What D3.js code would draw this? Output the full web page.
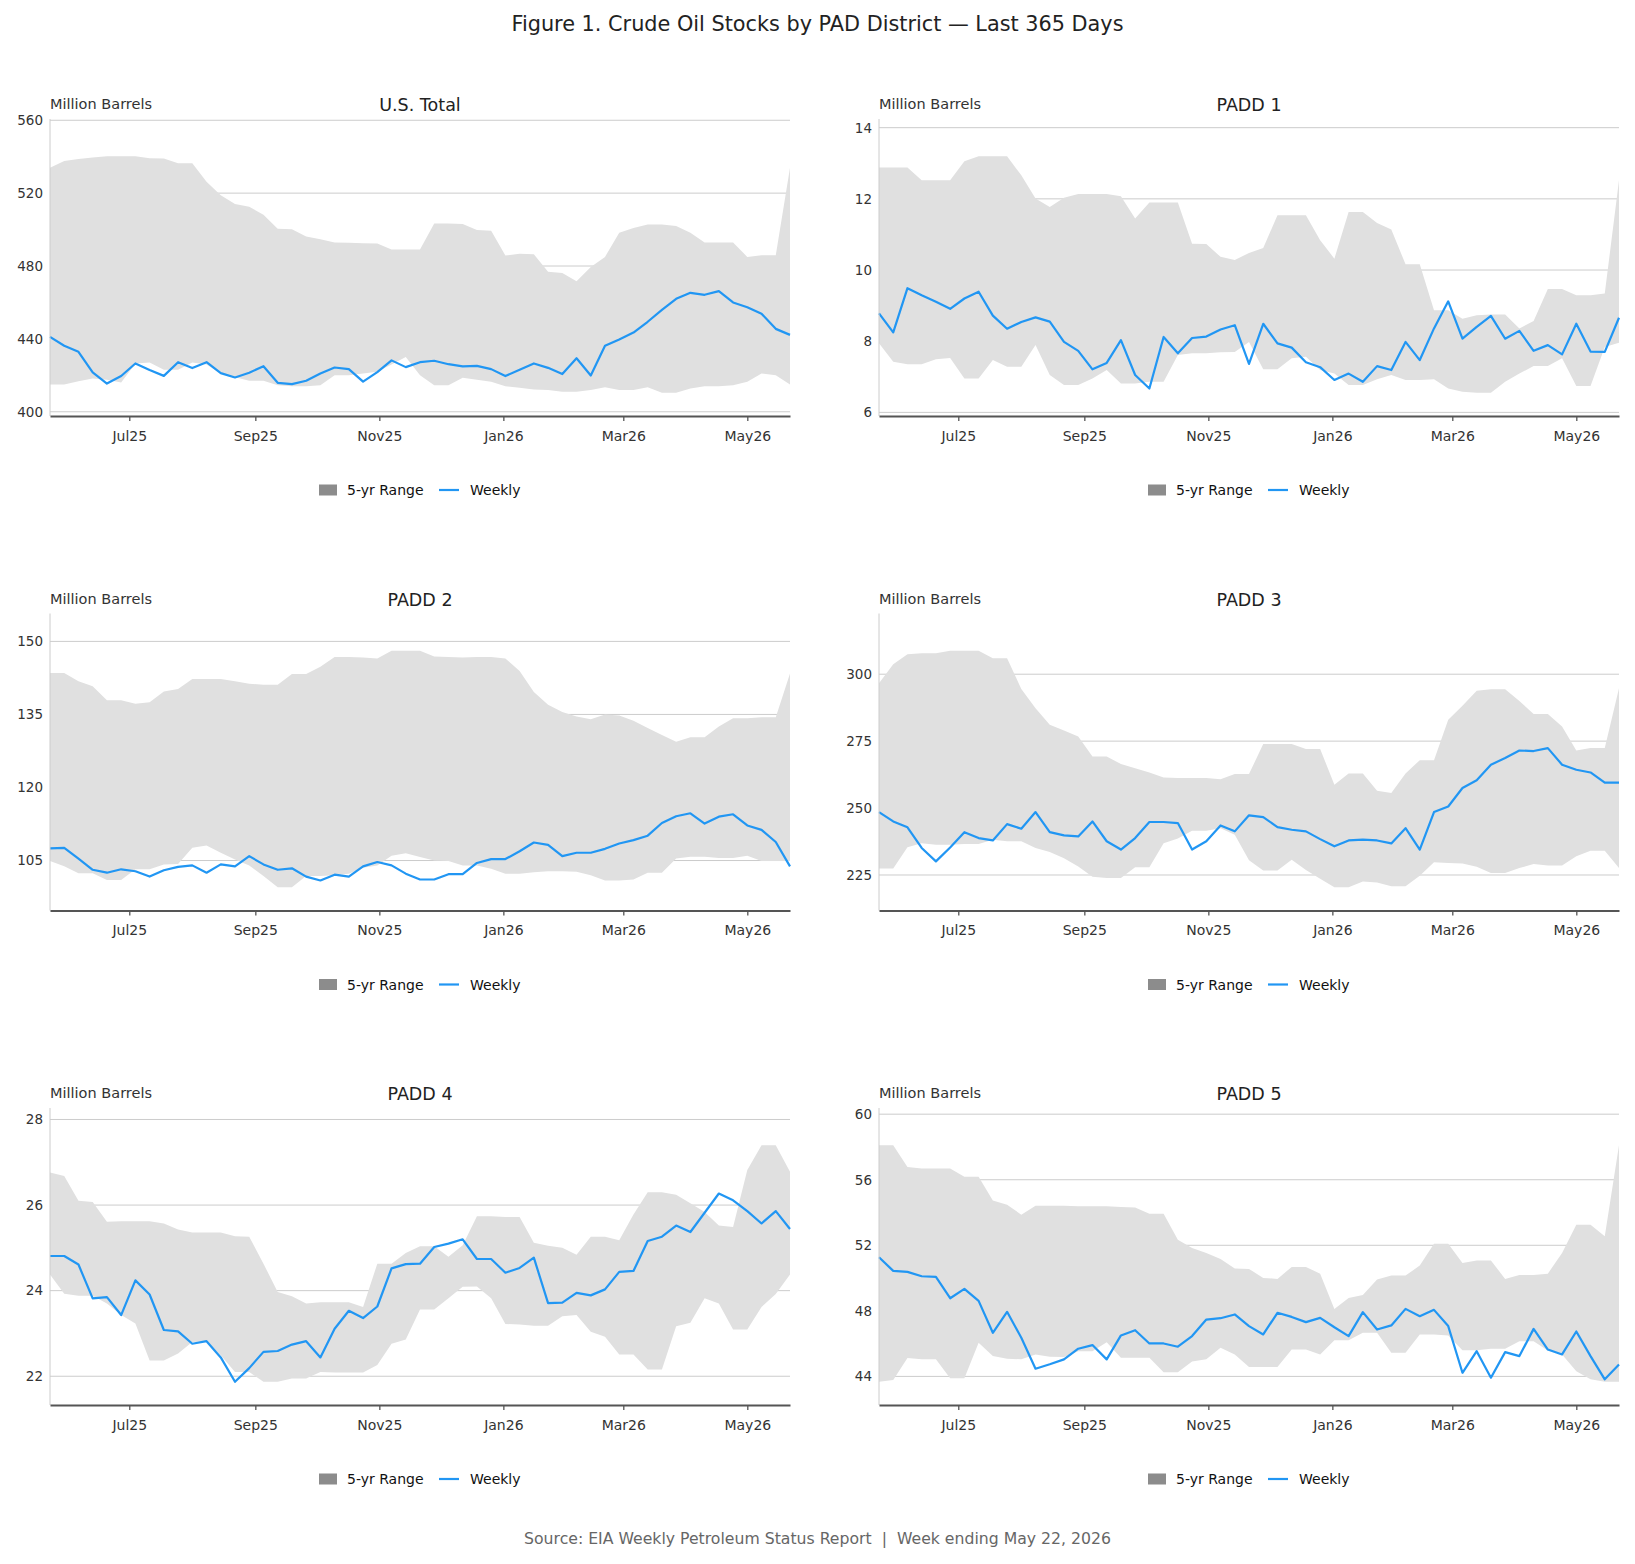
<!DOCTYPE html>
<html>
<head>
<meta charset="utf-8">
<script src="https://cdn.jsdelivr.net/npm/d3@7"></script>
<style>
  body { margin: 0; background: #fff; }
  text { font-family: "DejaVu Sans", sans-serif; }
</style>
</head>
<body>
<div id="canvas"></div>
<script>
"use strict"

let svgWidth = 1635;
let svgHeight = 1564;

/* week ending dates (Fridays), last 365 days */
let weeks = d3.timeFriday.range(new Date(2025, 4, 23), new Date(2026, 4, 23));

let panelNames = ["U.S. Total", "PADD 1", "PADD 2", "PADD 3", "PADD 4", "PADD 5"];

/* U.S. Total */
let usWeekly = [441.1, 436.2, 432.9, 421.6, 415.5, 419.6, 426.5, 422.9, 419.7, 427.2, 424.0, 427.2, 421.2, 418.8, 421.4, 425.0, 415.9, 415.2, 417.0, 421.0, 424.3, 423.4, 416.5, 421.8, 428.2, 424.5, 427.2, 428.0, 426.1, 424.9, 425.2, 423.4, 419.6, 423.0, 426.5, 424.1, 420.7, 429.4, 419.9, 436.2, 439.7, 443.5, 449.4, 455.9, 462.0, 465.3, 464.2, 466.2, 460.0, 457.4, 453.8, 445.5, 442.2];
let usHigh = [534.0, 537.7, 538.8, 539.5, 540.3, 540.3, 540.3, 539.2, 539.0, 536.4, 536.4, 526.2, 518.9, 514.1, 512.5, 508.1, 500.4, 500.2, 496.2, 494.7, 492.9, 492.7, 492.5, 492.3, 489.1, 489.1, 489.1, 503.3, 503.3, 503.1, 499.8, 499.3, 485.8, 486.7, 486.5, 476.8, 476.1, 471.7, 479.4, 485.0, 498.2, 500.8, 502.8, 502.8, 502.0, 498.2, 492.9, 492.9, 492.9, 485.0, 485.9, 485.9, 534.0];
let usLow = [415.0, 415.0, 416.8, 418.3, 417.5, 416.0, 426.5, 427.0, 423.0, 423.0, 427.0, 426.0, 421.0, 419.0, 417.0, 417.0, 414.6, 414.0, 414.0, 414.6, 420.0, 420.0, 421.0, 422.0, 426.0, 430.0, 420.0, 414.6, 414.6, 418.6, 417.5, 416.5, 414.0, 413.2, 412.2, 412.0, 411.0, 411.0, 412.0, 413.5, 412.0, 412.0, 413.5, 410.4, 410.4, 412.8, 414.0, 414.0, 414.6, 416.5, 421.0, 420.0, 415.0];
let usTicks = [400, 440, 480, 520, 560];

/* PADD 1 */
let p1Weekly = [8.78, 8.25, 9.49, 9.29, 9.11, 8.91, 9.20, 9.39, 8.72, 8.35, 8.54, 8.67, 8.55, 7.98, 7.73, 7.21, 7.39, 8.03, 7.05, 6.67, 8.12, 7.66, 8.09, 8.13, 8.33, 8.45, 7.36, 8.49, 7.94, 7.82, 7.41, 7.27, 6.91, 7.09, 6.86, 7.30, 7.19, 7.98, 7.47, 8.36, 9.12, 8.07, 8.40, 8.71, 8.07, 8.29, 7.73, 7.89, 7.63, 8.49, 7.71, 7.70, 8.66];
let p1High = [12.88, 12.88, 12.88, 12.52, 12.52, 12.52, 13.06, 13.20, 13.20, 13.20, 12.66, 12.01, 11.77, 12.03, 12.14, 12.14, 12.14, 12.07, 11.45, 11.90, 11.90, 11.90, 10.74, 10.73, 10.37, 10.28, 10.48, 10.62, 11.54, 11.54, 11.54, 10.84, 10.32, 11.63, 11.63, 11.32, 11.14, 10.16, 10.16, 8.87, 8.87, 8.63, 8.73, 8.75, 8.75, 8.36, 8.57, 9.47, 9.47, 9.29, 9.29, 9.34, 12.52];
let p1Low = [7.94, 7.42, 7.35, 7.35, 7.49, 7.53, 6.95, 6.95, 7.47, 7.28, 7.28, 7.89, 7.05, 6.77, 6.77, 6.95, 7.19, 6.81, 6.81, 6.86, 6.86, 7.61, 7.66, 7.66, 7.69, 7.70, 7.98, 7.21, 7.21, 7.52, 7.56, 7.19, 7.09, 6.77, 6.77, 6.93, 7.05, 6.91, 6.91, 6.93, 6.67, 6.58, 6.55, 6.55, 6.86, 7.09, 7.30, 7.30, 7.52, 6.74, 6.74, 7.84, 7.96];
let p1Ticks = [6, 8, 10, 12, 14];

/* PADD 2 */
let p2Weekly = [107.5, 107.6, 105.4, 103.1, 102.5, 103.2, 102.8, 101.7, 103.0, 103.7, 104.0, 102.5, 104.2, 103.8, 105.9, 104.2, 103.1, 103.4, 101.7, 100.9, 102.1, 101.7, 103.8, 104.7, 104.0, 102.3, 101.1, 101.1, 102.2, 102.2, 104.5, 105.3, 105.3, 106.9, 108.7, 108.2, 105.9, 106.6, 106.6, 107.4, 108.5, 109.2, 110.1, 112.7, 114.1, 114.7, 112.6, 114.0, 114.5, 112.2, 111.3, 108.8, 103.8];
let p2High = [143.5, 143.5, 141.8, 140.8, 137.9, 137.9, 137.2, 137.5, 139.7, 140.2, 142.3, 142.3, 142.3, 141.8, 141.3, 141.1, 141.1, 143.3, 143.3, 144.8, 146.8, 146.8, 146.7, 146.5, 148.1, 148.1, 148.1, 146.9, 146.8, 146.7, 146.8, 146.8, 146.5, 143.9, 139.6, 137.0, 135.5, 134.6, 134.0, 135.0, 134.8, 133.7, 132.2, 130.8, 129.4, 130.3, 130.3, 132.5, 134.2, 134.2, 134.4, 134.4, 143.4];
let p2Low = [104.9, 103.8, 102.4, 102.4, 101.0, 101.0, 103.2, 103.2, 104.2, 104.3, 107.6, 108.1, 106.6, 105.2, 104.0, 101.8, 99.5, 99.5, 101.8, 101.8, 102.0, 102.3, 103.5, 104.0, 106.0, 106.5, 105.7, 105.0, 104.9, 104.0, 104.0, 103.3, 102.3, 102.3, 102.6, 102.8, 102.8, 102.7, 102.0, 100.9, 100.9, 101.1, 102.5, 102.5, 105.4, 105.8, 105.8, 105.5, 105.5, 106.0, 104.9, 104.9, 104.9];
let p2Ticks = [105, 120, 135, 150];

/* PADD 3 */
let p3Weekly = [248.5, 245.0, 242.8, 235.1, 230.1, 235.3, 241.0, 238.8, 237.9, 244.0, 242.3, 248.5, 241.0, 239.8, 239.4, 245.0, 237.6, 234.5, 238.8, 244.8, 244.8, 244.4, 234.5, 237.6, 243.5, 241.3, 247.3, 246.6, 242.9, 241.9, 241.3, 238.4, 235.7, 237.9, 238.2, 237.9, 236.8, 242.5, 234.5, 248.5, 250.6, 257.5, 260.4, 266.2, 268.7, 271.5, 271.3, 272.4, 266.2, 264.3, 263.3, 259.5, 259.5];
let p3High = [296.6, 303.7, 307.5, 307.8, 307.8, 308.8, 308.8, 308.8, 306.0, 306.0, 294.5, 287.3, 281.1, 279.0, 276.7, 269.3, 269.3, 266.5, 264.9, 263.3, 261.4, 261.2, 261.2, 261.2, 260.8, 262.7, 262.7, 273.9, 273.9, 273.9, 272.1, 272.1, 258.7, 262.9, 262.9, 256.5, 255.6, 262.9, 267.9, 267.9, 283.0, 288.2, 293.8, 294.4, 294.4, 290.0, 285.1, 285.1, 280.5, 271.5, 272.4, 272.4, 294.8];
let p3Low = [227.4, 227.4, 235.4, 236.9, 236.3, 236.3, 236.6, 236.6, 238.2, 237.6, 237.6, 235.1, 233.6, 231.3, 228.2, 224.3, 223.9, 223.9, 227.9, 227.9, 236.9, 238.6, 241.5, 241.5, 242.5, 240.0, 230.5, 226.7, 226.7, 230.7, 226.9, 223.6, 220.4, 220.4, 222.6, 222.2, 220.8, 220.8, 224.7, 229.8, 229.5, 229.3, 228.1, 225.7, 225.7, 227.6, 229.1, 228.5, 228.5, 232.0, 234.1, 234.1, 227.6];
let p3Ticks = [225, 250, 275, 300];

/* PADD 4 */
let p4Weekly = [24.81, 24.81, 24.61, 23.82, 23.85, 23.43, 24.24, 23.91, 23.08, 23.05, 22.76, 22.82, 22.44, 21.87, 22.19, 22.57, 22.59, 22.74, 22.82, 22.44, 23.11, 23.53, 23.36, 23.63, 24.52, 24.62, 24.63, 25.02, 25.10, 25.20, 24.74, 24.74, 24.42, 24.53, 24.77, 23.71, 23.72, 23.95, 23.89, 24.03, 24.44, 24.46, 25.16, 25.26, 25.52, 25.37, 25.82, 26.27, 26.11, 25.86, 25.57, 25.86, 25.44];
let p4High = [26.76, 26.68, 26.10, 26.07, 25.61, 25.62, 25.62, 25.62, 25.57, 25.43, 25.36, 25.36, 25.36, 25.27, 25.26, 24.63, 23.97, 23.87, 23.70, 23.73, 23.73, 23.73, 23.62, 24.63, 24.63, 24.88, 25.04, 25.04, 24.79, 25.06, 25.74, 25.74, 25.72, 25.72, 25.12, 25.05, 25.00, 24.84, 25.26, 25.26, 25.18, 25.78, 26.30, 26.30, 26.24, 26.04, 25.84, 25.52, 25.49, 26.82, 27.40, 27.40, 26.78];
let p4Low = [24.38, 23.93, 23.88, 23.88, 23.70, 23.43, 23.23, 22.37, 22.37, 22.53, 22.80, 22.82, 22.49, 22.10, 22.10, 21.87, 21.87, 21.95, 21.95, 22.10, 22.09, 22.09, 22.09, 22.26, 22.76, 22.86, 23.56, 23.56, 23.82, 24.09, 24.10, 23.82, 23.22, 23.21, 23.18, 23.18, 23.40, 23.43, 23.04, 22.92, 22.51, 22.51, 22.16, 22.16, 23.17, 23.25, 23.82, 23.70, 23.09, 23.09, 23.62, 23.92, 24.38];
let p4Ticks = [22, 24, 26, 28];

/* PADD 5 */
let p5Weekly = [51.27, 50.44, 50.38, 50.11, 50.07, 48.77, 49.34, 48.61, 46.66, 47.94, 46.36, 44.47, 44.74, 45.04, 45.69, 45.91, 45.04, 46.50, 46.82, 46.01, 46.01, 45.81, 46.46, 47.47, 47.55, 47.78, 47.07, 46.56, 47.88, 47.63, 47.31, 47.57, 47.00, 46.46, 47.92, 46.86, 47.11, 48.12, 47.67, 48.06, 47.07, 44.22, 45.54, 43.92, 45.48, 45.24, 46.90, 45.64, 45.34, 46.74, 45.24, 43.82, 44.73];
let p5High = [58.11, 58.11, 56.77, 56.69, 56.69, 56.69, 56.18, 56.18, 54.74, 54.48, 53.87, 54.42, 54.42, 54.42, 54.38, 54.38, 54.38, 54.33, 54.31, 53.93, 53.93, 52.34, 51.84, 51.53, 51.17, 50.58, 50.56, 50.01, 49.95, 50.68, 50.68, 50.27, 48.12, 48.79, 48.97, 49.91, 50.15, 50.15, 50.76, 52.10, 52.10, 50.92, 51.07, 51.07, 49.95, 50.19, 50.19, 50.27, 51.53, 53.26, 53.26, 52.55, 58.11];
let p5Low = [43.67, 43.78, 45.12, 45.04, 45.04, 43.88, 43.88, 46.05, 45.24, 45.08, 45.04, 45.34, 45.20, 45.18, 45.54, 45.54, 46.09, 45.14, 45.14, 45.14, 44.26, 44.26, 44.91, 45.04, 45.75, 45.34, 44.57, 44.57, 44.57, 45.64, 45.64, 45.34, 46.21, 46.21, 46.66, 46.66, 45.44, 45.44, 46.56, 46.56, 46.50, 45.60, 45.60, 45.69, 45.69, 46.15, 46.15, 45.58, 45.34, 44.32, 43.82, 43.67, 43.67];
let p5Ticks = [44, 48, 52, 56, 60];

let panels = [
    {name: panelNames[0], weekly: usWeekly, high: usHigh, low: usLow, ticks: usTicks},
    {name: panelNames[1], weekly: p1Weekly, high: p1High, low: p1Low, ticks: p1Ticks},
    {name: panelNames[2], weekly: p2Weekly, high: p2High, low: p2Low, ticks: p2Ticks},
    {name: panelNames[3], weekly: p3Weekly, high: p3High, low: p3Low, ticks: p3Ticks},
    {name: panelNames[4], weekly: p4Weekly, high: p4High, low: p4Low, ticks: p4Ticks},
    {name: panelNames[5], weekly: p5Weekly, high: p5High, low: p5Low, ticks: p5Ticks}
];

/* layout */
let colX = [50, 879];
let rowY = [119, 613.5, 1108];
let plotW = 740;
let plotH = 297;

let lineColor = "#2196f3";
let bandColor = "#e0e0e0";

let svg = d3.select("#canvas")
    .append("svg")
    .attr("width", svgWidth)
    .attr("height", svgHeight);

svg.append("rect")
    .attr("width", svgWidth)
    .attr("height", svgHeight)
    .attr("fill", "white");

/* figure title */
svg.append("text")
    .attr("x", svgWidth / 2)
    .attr("y", 31)
    .attr("text-anchor", "middle")
    .attr("font-size", 20.8)
    .attr("fill", "#222")
    .text("Figure 1. Crude Oil Stocks by PAD District \u2014 Last 365 Days");

panels.forEach(function(p, index) {
    let left = colX[index % 2];
    let top = rowY[Math.floor(index / 2)];
    let right = left + plotW;
    let bottom = top + plotH;
    let g = svg.append("g");

    let xScale = d3.scaleTime()
        .domain(d3.extent(weeks))
        .range([left, right]);

    /* padded extent of band + line */
    let all = p.weekly.concat(p.high, p.low);
    let lo = d3.min(all);
    let hi = d3.max(all);
    let span = hi - lo;
    let yScale = d3.scaleLinear()
        .domain([lo - span * 0.098, hi + span * 0.157])
        .range([bottom, top]);

    /* gridlines */
    g.selectAll("line.grid")
        .data(p.ticks)
        .join("line")
        .attr("class", "grid")
        .attr("x1", left)
        .attr("x2", right)
        .attr("y1", d => yScale(d))
        .attr("y2", d => yScale(d))
        .attr("stroke", "#cccccc")
        .attr("stroke-width", 1);

    /* 5-yr range band */
    let area = d3.area()
        .x(d => xScale(d))
        .y0((d, i) => yScale(p.low[i]))
        .y1((d, i) => yScale(p.high[i]));

    g.append("path")
        .datum(weeks)
        .attr("d", area)
        .attr("fill", bandColor);

    /* weekly line */
    let line = d3.line()
        .x(d => xScale(d))
        .y((d, i) => yScale(p.weekly[i]));

    g.append("path")
        .datum(weeks)
        .attr("d", line)
        .attr("fill", "none")
        .attr("stroke", lineColor)
        .attr("stroke-width", 2.2)
        .attr("stroke-linejoin", "round");

    /* left axis line */
    g.append("line")
        .attr("x1", left)
        .attr("x2", left)
        .attr("y1", top)
        .attr("y2", bottom)
        .attr("stroke", "#cccccc");

    /* y tick labels */
    let yAxis = g.append("g")
        .attr("transform", "translate(" + left + ",0)")
        .call(d3.axisLeft(yScale)
            .tickValues(p.ticks)
            .tickFormat(d3.format("d"))
            .tickSize(0)
            .tickPadding(7));
    yAxis.select(".domain").remove();
    yAxis.selectAll("text")
        .attr("font-size", 13.5)
        .attr("font-family", "DejaVu Sans")
        .attr("fill", "#333");

    /* x axis */
    let xAxis = g.append("g")
        .attr("transform", "translate(0," + bottom + ")")
        .call(d3.axisBottom(xScale)
            .ticks(d3.timeMonth.every(2))
            .tickFormat(d3.timeFormat("%b%y"))
            .tickSize(5)
            .tickSizeOuter(0)
            .tickPadding(10));
    xAxis.select(".domain")
        .attr("stroke", "#555")
        .attr("stroke-width", 2);
    xAxis.selectAll(".tick line")
        .attr("stroke", "#555")
        .attr("stroke-width", 1.3);
    xAxis.selectAll("text")
        .attr("font-size", 14)
        .attr("font-family", "DejaVu Sans")
        .attr("fill", "#333");

    /* panel title and unit label */
    g.append("text")
        .attr("x", (left + right) / 2)
        .attr("y", top - 8)
        .attr("text-anchor", "middle")
        .attr("font-size", 17.5)
        .attr("fill", "#222")
        .text(p.name);

    g.append("text")
        .attr("x", left)
        .attr("y", top - 10)
        .attr("font-size", 14.5)
        .attr("fill", "#333")
        .text("Million Barrels");

    /* legend */
    let cx = (left + right) / 2;
    let ly = bottom + 74;
    g.append("rect")
        .attr("x", cx - 101)
        .attr("y", ly - 5.5)
        .attr("width", 18)
        .attr("height", 11)
        .attr("fill", "#8c8c8c");
    g.append("text")
        .attr("x", cx - 73)
        .attr("y", ly + 5)
        .attr("font-size", 14)
        .attr("fill", "#111")
        .text("5-yr Range");
    g.append("line")
        .attr("x1", cx + 19)
        .attr("x2", cx + 39)
        .attr("y1", ly)
        .attr("y2", ly)
        .attr("stroke", lineColor)
        .attr("stroke-width", 2.2);
    g.append("text")
        .attr("x", cx + 50)
        .attr("y", ly + 5)
        .attr("font-size", 14)
        .attr("fill", "#111")
        .text("Weekly");
});

/* source note */
svg.append("text")
    .attr("x", svgWidth / 2)
    .attr("y", 1544)
    .attr("text-anchor", "middle")
    .attr("font-size", 15.7)
    .attr("fill", "#666")
    .attr("xml:space", "preserve")
    .style("white-space", "pre")
    .text("Source: EIA Weekly Petroleum Status Report  |  Week ending May 22, 2026");
</script>
</body>
</html>
